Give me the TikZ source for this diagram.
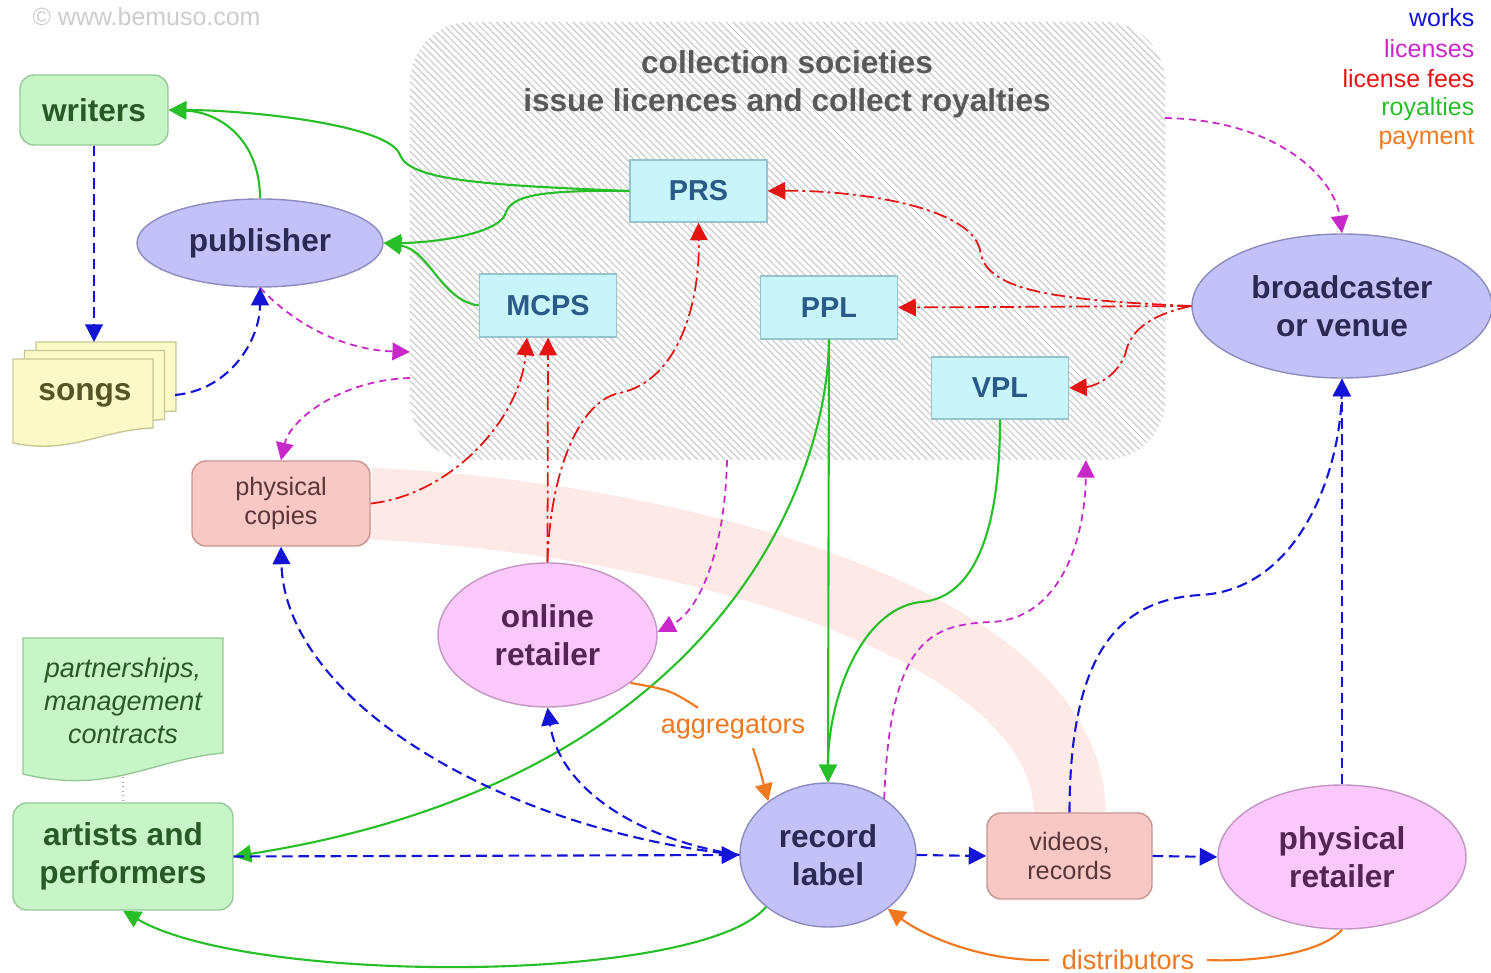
\documentclass[tikz,border=0pt]{standalone}
\usepackage{fontspec}
\setmainfont{Liberation Sans}
\usetikzlibrary{arrows.meta,shapes.geometric,patterns.meta,backgrounds}
\definecolor{worksc}{RGB}{20,20,215}
\definecolor{licc}{RGB}{200,40,200}
\definecolor{feec}{RGB}{228,20,20}
\definecolor{royc}{RGB}{40,190,40}
\definecolor{payc}{RGB}{240,120,30}
\definecolor{grnf}{RGB}{200,245,200}\definecolor{grnb}{RGB}{150,200,150}\definecolor{grnt}{RGB}{40,90,40}
\definecolor{lavf}{RGB}{194,194,248}\definecolor{lavb}{RGB}{140,140,190}\definecolor{lavt}{RGB}{42,42,85}
\definecolor{pnkf}{RGB}{250,200,250}\definecolor{pnkb}{RGB}{195,150,195}\definecolor{pnkt}{RGB}{85,35,85}
\definecolor{cynf}{RGB}{200,245,250}\definecolor{cynb}{RGB}{150,195,205}\definecolor{cynt}{RGB}{42,90,135}
\definecolor{salf}{RGB}{248,200,196}\definecolor{salb}{RGB}{200,150,145}\definecolor{salt}{RGB}{90,55,55}
\definecolor{ylwf}{RGB}{250,250,200}\definecolor{ylwb}{RGB}{200,200,150}\definecolor{ylwt}{RGB}{85,85,40}
\definecolor{bandc}{RGB}{253,233,230}
\begin{document}
\begin{tikzpicture}[>={Triangle[length=5pt,width=5pt]},
  bigtxt/.style={font=\bfseries\fontsize{9}{10.8}\selectfont,align=center,inner sep=0pt},
  smalltxt/.style={font=\fontsize{7.2}{8.3}\selectfont,align=center,inner sep=0pt},
  legtxt/.style={font=\fontsize{7.1}{8.5}\selectfont,inner sep=0pt},
  greenbox/.style={bigtxt,draw=grnb,fill=grnf,text=grnt,rounded corners=0.14cm},
  lavell/.style={bigtxt,ellipse,draw=lavb,fill=lavf,text=lavt},
  pinkell/.style={bigtxt,ellipse,draw=pnkb,fill=pnkf,text=pnkt},
  socbox/.style={bigtxt,font=\bfseries\fontsize{8.2}{10}\selectfont,draw=cynb,fill=cynf,text=cynt,
    minimum width=1.37cm,minimum height=0.62cm},
  copybox/.style={smalltxt,draw=salb,fill=salf,text=salt,rounded corners=0.14cm},
  works/.style={->,worksc,line width=0.6pt,dash pattern=on 3pt off 1.6pt},
  licenses/.style={->,licc,line width=0.5pt,dash pattern=on 2pt off 1.4pt},
  fees/.style={->,feec,line width=0.5pt,dash pattern=on 4pt off 1.2pt on 0.8pt off 1.2pt},
  royal/.style={->,royc,line width=0.6pt},
  pay/.style={payc,line width=0.6pt}]
\useasboundingbox (0,0) rectangle (14.91,-9.73);
% collection societies
\node[rounded corners=0.6cm,minimum width=7.55cm,minimum height=4.38cm,
  pattern={Lines[angle=-45,distance=1.4pt,line width=0.3pt]},pattern color=gray!45] (cs) at (7.875,-2.41) {};
\node[bigtxt,text=gray!70!black] (title) at (7.87,-0.845) {collection societies\\issue licences and collect royalties};
\coordinate (csne) at (11.65,-1.18);
\coordinate (cspub) at (4.10,-3.52);
\coordinate (cscopy) at (4.10,-3.78);
\coordinate (csor) at (7.27,-4.60);
\coordinate (csrl) at (10.86,-4.60);
\node[legtxt,text=gray!40,anchor=west] (copyr) at (0.32,-0.17) {\textcopyright{} www.bemuso.com};
\foreach \t/\c [count=\i] in {works/worksc,licenses/licc,license fees/feec,royalties/royc,payment/payc}
  \node[legtxt,text=\c,anchor=east] (leg\i) at (14.75,{-0.18-0.303*(\i-1)}) {\t};
% songs
\foreach \d in {2,1,0}
  \draw[draw=ylwb,fill=ylwf,shift={(0.115*\d,0.085*\d)}] (0.13,-3.59)--(1.53,-3.59)--(1.53,-4.28)
    .. controls (1.0,-4.30) and (0.7,-4.55) .. (0.13,-4.43)--cycle;
\node[bigtxt,text=ylwt] (songs) at (0.85,-3.95) {songs};
\coordinate (songtop) at (0.94,-3.42);
\coordinate (songright) at (1.75,-3.95);
% note
\draw[draw=grnb,fill=grnf] (0.23,-6.38)--(2.23,-6.38)--(2.23,-7.53)
  .. controls (1.5,-7.6) and (1.1,-7.95) .. (0.23,-7.74)--cycle;
\node[font=\itshape\fontsize{7.7}{9.4}\selectfont,align=center,inner sep=0pt,text=grnt] (note) at (1.23,-7.01)
  {partnerships,\\management\\contracts};
\coordinate (notebot) at (1.23,-7.77);
% nodes
\node[greenbox,minimum width=1.48cm,minimum height=0.70cm] (writers) at (0.94,-1.10) {writers};
\node[lavell,minimum width=2.46cm,minimum height=0.88cm] (pub) at (2.60,-2.43) {publisher};
\node[socbox] (PRS) at (6.985,-1.91) {PRS};
\node[socbox,minimum height=0.63cm] (MCPS) at (5.48,-3.055) {MCPS};
\node[socbox,minimum height=0.63cm] (PPL) at (8.29,-3.075) {PPL};
\node[socbox] (VPL) at (10.00,-3.88) {VPL};
\node[lavell,minimum width=3.00cm,minimum height=1.44cm] (bv) at (13.42,-3.06) {broadcaster\\or venue};
\node[copybox,minimum width=1.78cm,minimum height=0.85cm] (pc) at (2.81,-5.035) {physical\\copies};
\node[pinkell,minimum width=2.19cm,minimum height=1.44cm] (or) at (5.475,-6.35) {online\\retailer};
\node[greenbox,minimum width=2.20cm,minimum height=1.07cm] (ap) at (1.23,-8.565) {artists and\\performers};
\node[lavell,minimum width=1.76cm,minimum height=1.44cm] (rl) at (8.28,-8.55) {record\\label};
\node[copybox,minimum width=1.65cm,minimum height=0.86cm] (vr) at (10.695,-8.56) {videos,\\records};
\node[pinkell,minimum width=2.48cm,minimum height=1.44cm] (pr) at (13.42,-8.57) {physical\\retailer};
\node[font=\fontsize{7.7}{9}\selectfont,text=payc,inner sep=0pt] (agg) at (7.33,-7.28) {aggregators};
\node[font=\fontsize{7.7}{9}\selectfont,text=payc,inner sep=0pt] (dist) at (11.28,-9.60) {distributors};
\begin{scope}[on background layer]
\draw[bandc,line width=0.72cm] (pc.east) .. controls (7.0,-5.2) and (10.695,-6.3) .. (vr.north);
\end{scope}
\draw[gray!70,densely dotted,line width=0.3pt] (notebot)--(ap.north);
% royalties
\draw[royal] (PRS.west) .. controls (4.8,-1.85) and (4.1,-1.8) .. (4.0,-1.55)
  .. controls (3.9,-1.25) and (2.5,-1.10) .. (writers.east);
\draw[royal] (PRS.west) .. controls (5.4,-1.90) and (5.1,-1.95) .. (5.05,-2.15)
  .. controls (4.95,-2.35) and (4.3,-2.43) .. (pub.east);
\draw[royal] (MCPS.west) .. controls (4.4,-3.0) and (4.3,-2.5) .. (pub.east);
\draw[royal] (pub.north) .. controls (2.6,-1.4) and (2.2,-1.12) .. (writers.east);
\draw[royal] (PPL.south)--(rl.north);
\draw[royal] (PPL.south) .. controls (8.28,-4.8) and (7.2,-7.8) .. (ap.east);
\draw[royal] (VPL.south) .. controls (10.0,-5.6) and (9.6,-6.0) .. (9.2,-6.02)
  .. controls (8.6,-6.1) and (8.28,-7.0) .. (rl.north);
\draw[royal] (rl.220) .. controls (7.0,-9.85) and (2.5,-9.85) .. (ap.south);
% license fees
\draw[fees] (bv.west) .. controls (10.5,-3.0) and (9.85,-2.9) .. (9.8,-2.5)
  .. controls (9.7,-2.05) and (8.5,-1.9) .. (PRS.east);
\draw[fees] (bv.west)--(PPL.east);
\draw[fees] (bv.west) .. controls (11.5,-3.15) and (11.3,-3.3) .. (11.25,-3.55)
  .. controls (11.15,-3.8) and (10.9,-3.87) .. (VPL.east);
\draw[fees] (pc.east) .. controls (4.5,-4.95) and (5.2,-4.2) .. ([xshift=-0.21cm]MCPS.south);
\draw[fees] (or.north)--(MCPS.south);
\draw[fees] (or.north) .. controls (5.5,-4.7) and (5.8,-4.0) .. (6.2,-3.93)
  .. controls (6.8,-3.8) and (7.0,-3.0) .. (PRS.south);
% licenses
\draw[licenses] (csne) .. controls (12.8,-1.2) and (13.35,-1.8) .. (bv.north);
\draw[licenses] (pub.south) .. controls (3.0,-3.3) and (3.5,-3.5) .. (cspub);
\draw[licenses] (cscopy) .. controls (3.4,-3.8) and (2.9,-4.2) .. (pc.north);
\draw[licenses] (csor) .. controls (7.25,-5.5) and (7.0,-6.1) .. ([yshift=0.03cm]or.east);
\draw[licenses] (rl.45) .. controls (8.9,-6.4) and (9.3,-6.25) .. (9.9,-6.22)
  .. controls (10.6,-6.2) and (10.85,-5.4) .. (csrl);
% works
\draw[works] (writers.south)--(songtop);
\draw[works] (songright) .. controls (2.3,-3.9) and (2.6,-3.4) .. (pub.south);
\draw[works] (ap.east)--(rl.west);
\draw[works] (rl.west) .. controls (5.0,-8.3) and (2.85,-7.0) .. (pc.south);
\draw[works] (rl.west) .. controls (6.4,-8.4) and (5.6,-7.9) .. (or.south);
\draw[works] (rl.east)--(vr.west);
\draw[works] (vr.east)--(pr.west);
\draw[works] (vr.north) .. controls (10.7,-6.5) and (11.2,-6.0) .. (12.0,-5.95)
  .. controls (13.0,-5.9) and (13.4,-4.7) .. (bv.south);
\draw[works] (pr.north)--(bv.south);
% payment
\draw[pay] (or.330) .. controls (6.7,-6.9) .. ([xshift=-0.35cm,yshift=0.08cm]agg.north);
\draw[pay,->] ([xshift=0.2cm,yshift=-0.08cm]agg.south) .. controls (7.6,-7.7) .. (rl.138);
\draw[pay] (pr.south) .. controls (13.2,-9.55) and (12.5,-9.62) .. ([xshift=0.12cm]dist.east);
\draw[pay,->] ([xshift=-0.12cm]dist.west) .. controls (9.9,-9.62) and (9.3,-9.4) .. (rl.318);
\end{tikzpicture}
\end{document}
